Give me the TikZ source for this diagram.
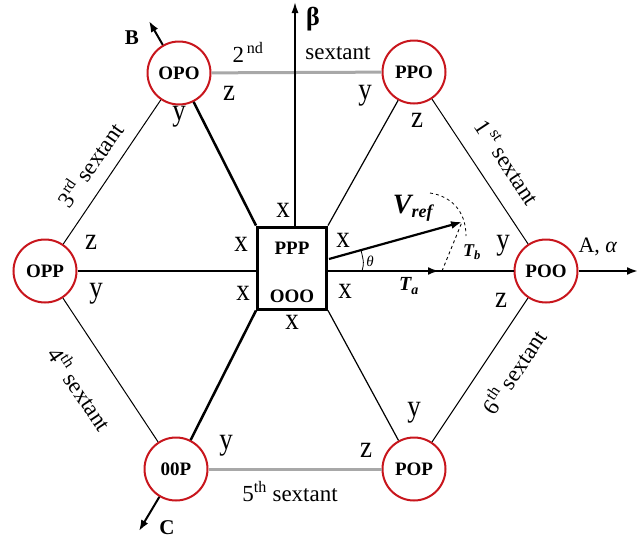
\documentclass[tikz,border=0pt]{standalone}
\usepackage{fontspec}
\setmainfont{Liberation Serif}
\usetikzlibrary{arrows.meta,calc}
\definecolor{vred}{HTML}{C8161D}
\definecolor{edgegrey}{HTML}{A8A8A8}

\begin{document}
\begin{tikzpicture}[x=1pt, y=-1pt,
    state/.style={circle, draw=vred, line width=2pt, minimum size=63pt, inner sep=0pt, font=\fontsize{19}{19}\selectfont\bfseries},
    ctrbox/.style={draw, line width=3pt, minimum width=69pt, minimum height=82pt, inner sep=0pt},
    lbl/.style={font=\fontsize{27}{27}\selectfont, inner sep=0pt, yscale=1.15, transform shape},
    sext/.style={font=\fontsize{23}{23}\selectfont, inner sep=0pt},
    hexedge/.style={line width=1pt},
    greyedge/.style={line width=3pt, draw=edgegrey},
    arr/.style={-{Latex[length=11pt,width=8pt]}, line width=2.2pt}
]
    \useasboundingbox (0,0) rectangle (640,541);

    % switching states
    \node[state] (poo) at (546,271) {POO};
    \node[state] (ppo) at (414,72) {PPO};
    \node[state] (opo) at (179,73) {OPO};
    \node[state] (opp) at (45,271) {OPP};
    \node[state] (oop) at (176,469) {00P};
    \node[state] (pop) at (414,469) {POP};
    \node[ctrbox] (ctr) at (292,268) {};
    \node[font=\fontsize{19}{19}\selectfont\bfseries] (ppp) at (292,248) {PPP};
    \node[font=\fontsize{19}{19}\selectfont\bfseries] (ooo) at (292,296) {OOO};

    % hexagon
    \draw[greyedge] (opo) -- (ppo);
    \draw[greyedge] (oop) -- (pop);
    \draw[hexedge] (ppo) -- (poo);
    \draw[hexedge] (poo) -- (pop);
    \draw[hexedge] (opo) -- (opp);
    \draw[hexedge] (opp) -- (oop);

    % spokes
    \draw[line width=2.5pt] (opo) -- (ctr.north west);
    \draw[line width=2.5pt] (oop) -- (ctr.south west);
    \draw[line width=1.2pt] (ppo) -- (ctr.north east);
    \draw[line width=1.2pt] (pop) -- (ctr.south east);
    \draw[line width=1.6pt] (opp) -- (opp -| ctr.west);

    % axes
    \coordinate (btip) at (295,2);
    \coordinate (atip) at (638,271);
    \coordinate (bax) at (149,21);
    \coordinate (cax) at (139,531);
    \draw[-{Latex[length=11pt,width=7pt]}, line width=1.6pt] (btip |- ctr.north) -- (btip);
    \draw[arr] (poo) -- (atip);
    \draw[arr, line width=2pt] (opo) -- (bax);
    \draw[arr, line width=2pt] (oop) -- (cax);
    \node[font=\fontsize{26}{26}\selectfont\bfseries] (beta) at (313,19) {β};
    \node[font=\fontsize{22}{22}\selectfont] (alab) at (598,247) {A, \textit{α}};
    \node[font=\fontsize{21}{21}\selectfont\bfseries] (blab) at (132,38) {B};
    \node[font=\fontsize{21}{21}\selectfont\bfseries] (clab) at (167,528) {C};

    % reference vector
    \coordinate (ta) at (439,271);
    \coordinate (vo) at (329,259);
    \coordinate (vt) at (462,222);
    \coordinate (tb) at (442,271);
    \draw[line width=2.5pt] (ctr.east |- poo) -- (poo);
    \draw[arr] (ctr.east |- poo) -- (ta);
    \draw[arr, line width=2.2pt] (vo) -- (vt);
    \draw[dashed, line width=0.9pt] (tb) -- (vt);
    \draw[dashed, line width=0.8pt] (430,193) .. controls (450,196) and (466,210) .. (466,236);
    \draw[line width=0.8pt] (362,271) .. controls (364,263) .. (361,250);
    \node[font=\fontsize{15}{15}\selectfont\itshape] (theta) at (370,261) {θ};
    \node[font=\fontsize{28}{28}\selectfont\bfseries\itshape] (vref) at (413,208) {V\textsubscript{\fontsize{18}{18}\selectfont ref}};
    \node[font=\fontsize{20}{20}\selectfont\bfseries\itshape] (talab) at (409,286) {T\textsubscript{a}};
    \node[font=\fontsize{18}{18}\selectfont\bfseries\itshape] (tblab) at (472,252) {T\textsubscript{b}};

    % vector labels
    \node[lbl] at (283,210) {x};
    \node[lbl] at (241,244) {x};
    \node[lbl] at (243,293) {x};
    \node[lbl] at (343,240) {x};
    \node[lbl] at (345,291) {x};
    \node[lbl] at (292,322) {x};
    \node[lbl] at (229,93) {z};
    \node[lbl] at (179,117) {y};
    \node[lbl] at (365,96) {y};
    \node[lbl] at (417,120) {z};
    \node[lbl] at (91,242) {z};
    \node[lbl] at (96,294) {y};
    \node[lbl] at (503,246) {y};
    \node[lbl] at (501,300) {z};
    \node[lbl] at (226,446) {y};
    \node[lbl] at (414,413) {y};
    \node[lbl] at (366,450) {z};

    % sextants
    \node[sext] at (248,52) {2\textsuperscript{\,nd}};
    \node[sext] at (338,53) {sextant};
    \node[sext] at (290,492) {5\textsuperscript{th} sextant};
    \node[sext, rotate=-56.5] at (508,162) {1\textsuperscript{\,st} sextant};
    \node[sext, rotate=56] at (513,371) {6\textsuperscript{th} sextant};
    \node[sext, rotate=55] at (89,164) {3\textsuperscript{rd} sextant};
    \node[sext, rotate=-56] at (81,388) {4\textsuperscript{th} sextant};
\end{tikzpicture}
\end{document}
